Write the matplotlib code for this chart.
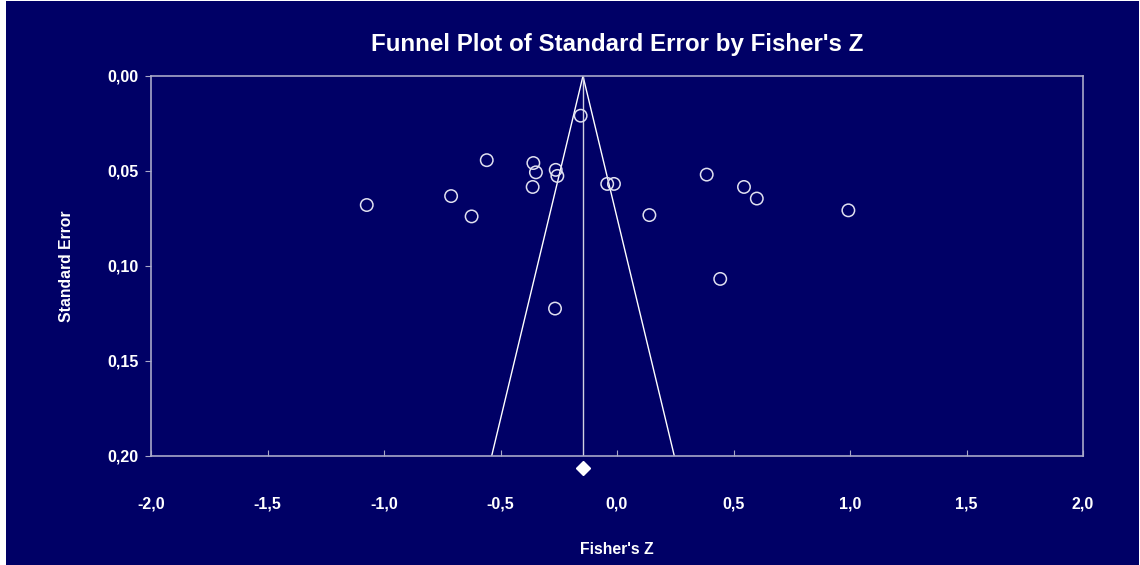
# Funnel plot of standard error by Fisher's Z (meta-analysis style)
import numpy as np
import matplotlib.pyplot as plt
from matplotlib.patches import Rectangle
from matplotlib.ticker import FuncFormatter

plt.rcParams['font.family'] = ['Liberation Sans', 'DejaVu Sans']

# study estimates
fisher_z = [-0.156, -0.559, -0.359, -0.348, -0.263, -0.256, -0.362, -1.074,
            -0.712, -0.624, -0.042, -0.013, 0.139, 0.385, 0.545, 0.600,
            0.993, 0.443, -0.266]
std_err = [0.0209, 0.0443, 0.0458, 0.0507, 0.0494, 0.0526, 0.0584, 0.0679,
           0.0632, 0.0739, 0.0568, 0.0568, 0.0732, 0.0519, 0.0584, 0.0645,
           0.0707, 0.1068, 0.1224]
pooled_z = -0.146
se_max = 0.20

x_ticks = [-2.0, -1.5, -1.0, -0.5, 0.0, 0.5, 1.0, 1.5, 2.0]
y_ticks = [0.00, 0.05, 0.10, 0.15, 0.20]

navy = '#000066'
axis_col = '#a8a8c8'

fig = plt.figure(figsize=(11.4, 5.65), dpi=100, facecolor=navy)
# thin white border of the original (left strip, top and right lines)
for rect in [(0, 0, 6 / 1140, 1), (0, 1 - 1 / 565, 1, 1 / 565),
             (1 - 1 / 1140, 0, 1 / 1140, 1)]:
    fig.patches.append(Rectangle(rect[:2], rect[2], rect[3],
                                 transform=fig.transFigure, facecolor='white',
                                 edgecolor='none'))

ax = fig.add_axes([151 / 1140, 1 - 456 / 565, 932 / 1140, 380 / 565])
ax.set_facecolor(navy)

# funnel (95% limits) and the pooled estimate line
se_line = np.array([0.0, se_max])
ax.plot(pooled_z - 1.96 * se_line, se_line, color='white', lw=1)
ax.plot(pooled_z + 1.96 * se_line, se_line, color='white', lw=1)
ax.plot([pooled_z, pooled_z], [0, se_max], color='#d0d0e0', lw=1)

ax.scatter(fisher_z, std_err, s=80, facecolors='none', edgecolors='#e0e0f0',
           linewidths=1.1, zorder=3)

# pooled diamond below the axis
ax.plot([pooled_z], [0.2063], marker='D', ms=7, color='white',
        clip_on=False, zorder=4)

ax.set_xlim(-2.0, 2.0)
ax.set_ylim(se_max, 0.0)
ax.set_xticks(x_ticks)
ax.set_yticks(y_ticks)
ax.xaxis.set_major_formatter(FuncFormatter(lambda v, p: f'{v:.1f}'.replace('.', ',')))
ax.yaxis.set_major_formatter(FuncFormatter(lambda v, p: f'{v:.2f}'.replace('.', ',')))

for s in ax.spines.values():
    s.set_color(axis_col)
    s.set_linewidth(1.2)

ax.tick_params(axis='x', direction='in', length=4, color=axis_col, pad=29,
               labelsize=11.5, labelcolor='white')
ax.tick_params(axis='y', direction='out', length=4, color=axis_col, pad=5,
               labelsize=11.5, labelcolor='white')
for lab in ax.get_xticklabels() + ax.get_yticklabels():
    lab.set_fontweight('bold')

ax.set_xlabel("Fisher's Z", color='white', fontsize=11.3, fontweight='bold',
              labelpad=22)
ax.set_ylabel('Standard Error', color='white', fontsize=11.3, fontweight='bold',
              labelpad=24)
ax.set_title("Funnel Plot of Standard Error by Fisher's Z", color='white',
             fontsize=17.4, fontweight='bold', pad=18)

fig.savefig('out.png', dpi=100, facecolor=navy)
